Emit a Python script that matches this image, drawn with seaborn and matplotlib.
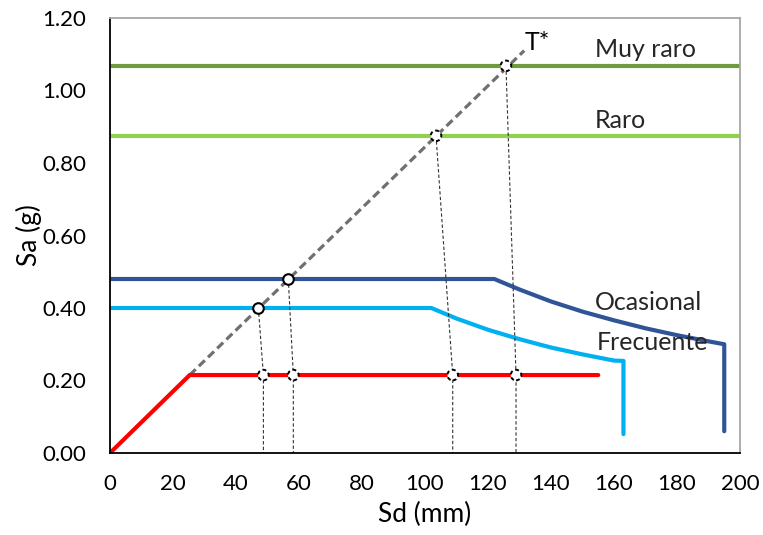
import matplotlib
matplotlib.use("Agg")
import matplotlib.pyplot as plt
import seaborn as sns
import pandas as pd

# Capacity curve (bilinear) in Sd (mm) vs Sa (g)
cap_sd = [0, 25.3, 155]
cap_sa = [0, 0.215, 0.215]

# Demand levels: horizontal lines
muy_raro_sa = 1.068
raro_sa = 0.875

# Demand spectra (ADRS)
ocas_sd = [0, 122, 130, 140, 150, 160, 170, 180, 190, 195, 195]
ocas_sa = [0.48, 0.48, 0.451, 0.418, 0.390, 0.366, 0.344, 0.325, 0.308, 0.300, 0.06]
frec_sd = [0, 102, 110, 120, 130, 140, 150, 160, 163, 163]
frec_sa = [0.40, 0.40, 0.371, 0.340, 0.314, 0.291, 0.272, 0.255, 0.254, 0.052]

# Elastic period line T*
tstar_sd = [25.3, 131.5]
tstar_sa = [0.215, 1.11]

# Intersections with T* and the projected performance points
hit_sd = [47.1, 56.6, 103.5, 125.7]
hit_sa = [0.40, 0.48, 0.875, 1.068]
perf_sd = [48.7, 58.2, 108.8, 128.9]
perf_sa = [0.215, 0.215, 0.215, 0.215]

x_ticks = [0, 20, 40, 60, 80, 100, 120, 140, 160, 180, 200]
y_ticks = [0.0, 0.2, 0.4, 0.6, 0.8, 1.0, 1.2]

sns.set_theme(style="white")
plt.rcParams["font.family"] = ["Lato", "DejaVu Sans"]

fig = plt.figure(figsize=(7.63, 5.35), dpi=100)
ax = fig.add_axes([110 / 763, 82 / 535, 630 / 763, 435 / 535])

C_MUY = "#6f9a3e"
C_RARO = "#92d050"
C_OCAS = "#2f5597"
C_FREC = "#00b0f0"
C_RED = "#ff0000"
C_TSTAR = "#707070"

def line(xs, ys, **kw):
    df = pd.DataFrame({"x": xs, "y": ys})
    sns.lineplot(data=df, x="x", y="y", ax=ax, sort=False, estimator=None, **kw)

# horizontal demand levels
line([0, 200], [muy_raro_sa, muy_raro_sa], color=C_MUY, lw=3.0)
line([0, 200], [raro_sa, raro_sa], color=C_RARO, lw=3.0)

# spectra
line(ocas_sd, ocas_sa, color=C_OCAS, lw=3.0, solid_capstyle="round")
line(frec_sd, frec_sa, color=C_FREC, lw=3.0, solid_capstyle="round")

# projection guides from T* intersections down to the capacity curve and axis
for hx, hy, px, py in zip(hit_sd, hit_sa, perf_sd, perf_sa):
    line([hx, px, px], [hy, py, 0], color="#333333", lw=0.8,
         linestyle=(0, (3, 2)))

# T* line
line(tstar_sd, tstar_sa, color=C_TSTAR, lw=2.3, linestyle=(0, (2.6, 1.4)))

# capacity curve
line(cap_sd, cap_sa, color=C_RED, lw=3.0, solid_capstyle="round")

# markers
solid_pts = pd.DataFrame({"x": hit_sd[:2], "y": hit_sa[:2]})
dashed_pts = pd.DataFrame({"x": hit_sd[2:] + perf_sd, "y": hit_sa[2:] + perf_sa})
sns.scatterplot(data=solid_pts, x="x", y="y", ax=ax, s=58, color="white",
                edgecolor="black", linewidth=1.5, zorder=5)
sns.scatterplot(data=dashed_pts, x="x", y="y", ax=ax, s=58, color="white",
                edgecolor="black", linewidth=1.4, linestyle=(0, (2, 1.5)),
                zorder=5)

# annotations
ax.text(131.6, 1.133, "T*", fontsize=18, va="center", ha="left", color="black")
ax.text(154.0, 1.092, "Muy raro", fontsize=18, va="baseline", ha="left")
ax.text(154.0, 0.897, "Raro", fontsize=18, va="baseline", ha="left")
ax.text(154.0, 0.394, "Ocasional", fontsize=18, va="baseline", ha="left")
ax.text(154.6, 0.284, "Frecuente", fontsize=18, va="baseline", ha="left")

ax.set_xlim(0, 200)
ax.set_ylim(0, 1.2)
ax.set_xticks(x_ticks)
ax.set_xticklabels([str(v) for v in x_ticks])
ax.set_yticks(y_ticks)
ax.set_yticklabels([f"{v:.2f}" for v in y_ticks])
ax.tick_params(axis="both", which="major", direction="out", length=6,
               width=1.0, color="black", labelsize=16, labelcolor="black")
ax.tick_params(axis="y", pad=11)
ax.tick_params(axis="x", pad=9)

for side in ["left", "bottom"]:
    ax.spines[side].set_color("black")
    ax.spines[side].set_linewidth(1.3)
for side in ["top", "right"]:
    ax.spines[side].set_color("#a6a6a6")
    ax.spines[side].set_linewidth(1.3)

ax.set_xlabel("Sd (mm)", fontsize=19, color="black")
ax.set_ylabel("Sa (g)", fontsize=19, color="black")
ax.xaxis.set_label_coords(0.5, -0.112)
ax.yaxis.set_label_coords(-0.108, 0.5)

fig.savefig("out.png", dpi=100)
